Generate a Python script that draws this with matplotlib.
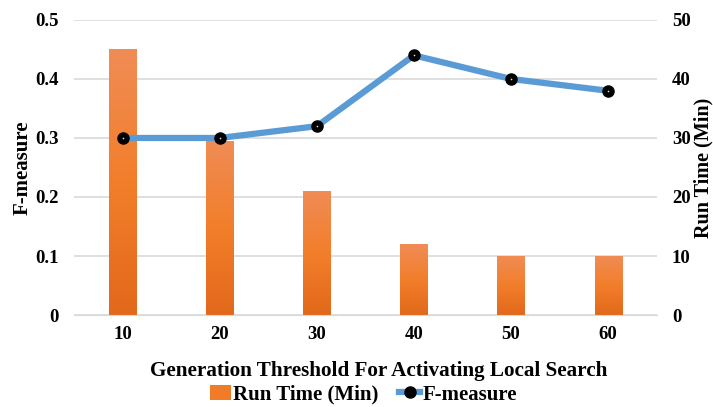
import numpy as np
import matplotlib.pyplot as plt
from matplotlib.colors import LinearSegmentedColormap
from matplotlib.lines import Line2D
from matplotlib.patches import Patch

plt.rcParams["font.family"] = ["Liberation Serif", "DejaVu Serif"]
plt.rcParams["font.weight"] = "bold"

thresholds = ["10", "20", "30", "40", "50", "60"]
run_time = [45, 29.5, 21, 12, 10, 10]
f_measure = [0.30, 0.30, 0.32, 0.44, 0.40, 0.38]

x = np.arange(len(thresholds))

fig = plt.figure(figsize=(7.13, 4.07), dpi=100)
ax = fig.add_axes([0.104, 0.226, 0.817, 0.725])   # run time (bars)
ax2 = ax.twinx()                                   # F-measure (line)

# bars with a vertical orange gradient
bars = ax.bar(x, run_time, width=0.28, color="none", edgecolor="none", zorder=2)
grad = LinearSegmentedColormap.from_list("og", ["#E2691B", "#F27E2A", "#F08C55"])
for b in bars:
    x0, y0 = b.get_x(), b.get_y()
    w, h = b.get_width(), b.get_height()
    img = ax.imshow(np.linspace(0, 1, 100).reshape(-1, 1), cmap=grad, origin="lower",
                    extent=[x0, x0 + w, y0, y0 + h], aspect="auto", zorder=2)
    img.set_clip_path(b)
ax.set_xlim(-0.5, len(thresholds) - 0.5)
ax.set_ylim(0, 50)

ax2.plot(x, f_measure, color="#5B9BD5", lw=4.5, zorder=3, solid_capstyle="round")
ax2.plot(x, f_measure, ls="none", marker="o", ms=8, mfc="black", mec="black", zorder=4)
ax2.plot(x, f_measure, ls="none", marker="o", ms=1.2, mfc="#dddddd", mec="none", zorder=5)
ax2.set_ylim(0, 0.5)

# bars axis on the right, F-measure on the left
ax.yaxis.tick_right()
ax.yaxis.set_label_position("right")
ax2.yaxis.tick_left()
ax2.yaxis.set_label_position("left")

ax.set_yticks([0, 10, 20, 30, 40, 50])
ax2.set_yticks([0, 0.1, 0.2, 0.3, 0.4, 0.5])
ax2.set_yticklabels(["0", "0.1", "0.2", "0.3", "0.4", "0.5"])
ax.set_xticks(x)
ax.set_xticklabels(thresholds)

ax.yaxis.grid(True, color="#D9D9D9", lw=1.2, zorder=0)
ax.set_axisbelow(True)

for a in (ax, ax2):
    for s in a.spines.values():
        s.set_visible(False)
    a.tick_params(length=0, labelsize=13.5)
ax.tick_params(axis="x", pad=8)
ax.tick_params(axis="y", pad=11)
ax2.tick_params(axis="y", pad=11)
ax.spines["bottom"].set_visible(True)
ax.spines["bottom"].set_color("#D9D9D9")

ax.set_xlabel("Generation Threshold For Activating Local Search", fontsize=15.2,
              fontweight="bold")
ax.xaxis.set_label_coords(0.522, -0.155)
ax.set_ylabel("Run Time (Min)", fontsize=14.5, fontweight="bold")
ax.yaxis.set_label_coords(1.064, 0.5)
ax2.set_ylabel("F-measure", fontsize=15, fontweight="bold", labelpad=2)

handles = [
    Patch(facecolor="#F07C28", edgecolor="none"),
    Line2D([0], [0], color="#5B9BD5", lw=4.5, marker="o", ms=8, mfc="black", mec="black"),
]
fig.legend(handles, ["Run Time (Min)", "F-measure"], loc="lower center",
           bbox_to_anchor=(0.51, -0.041), ncol=2, frameon=False, fontsize=15,
           handlelength=1.0, handleheight=0.75, handletextpad=0.1, columnspacing=1.0)

fig.savefig("out.png", dpi=100)
